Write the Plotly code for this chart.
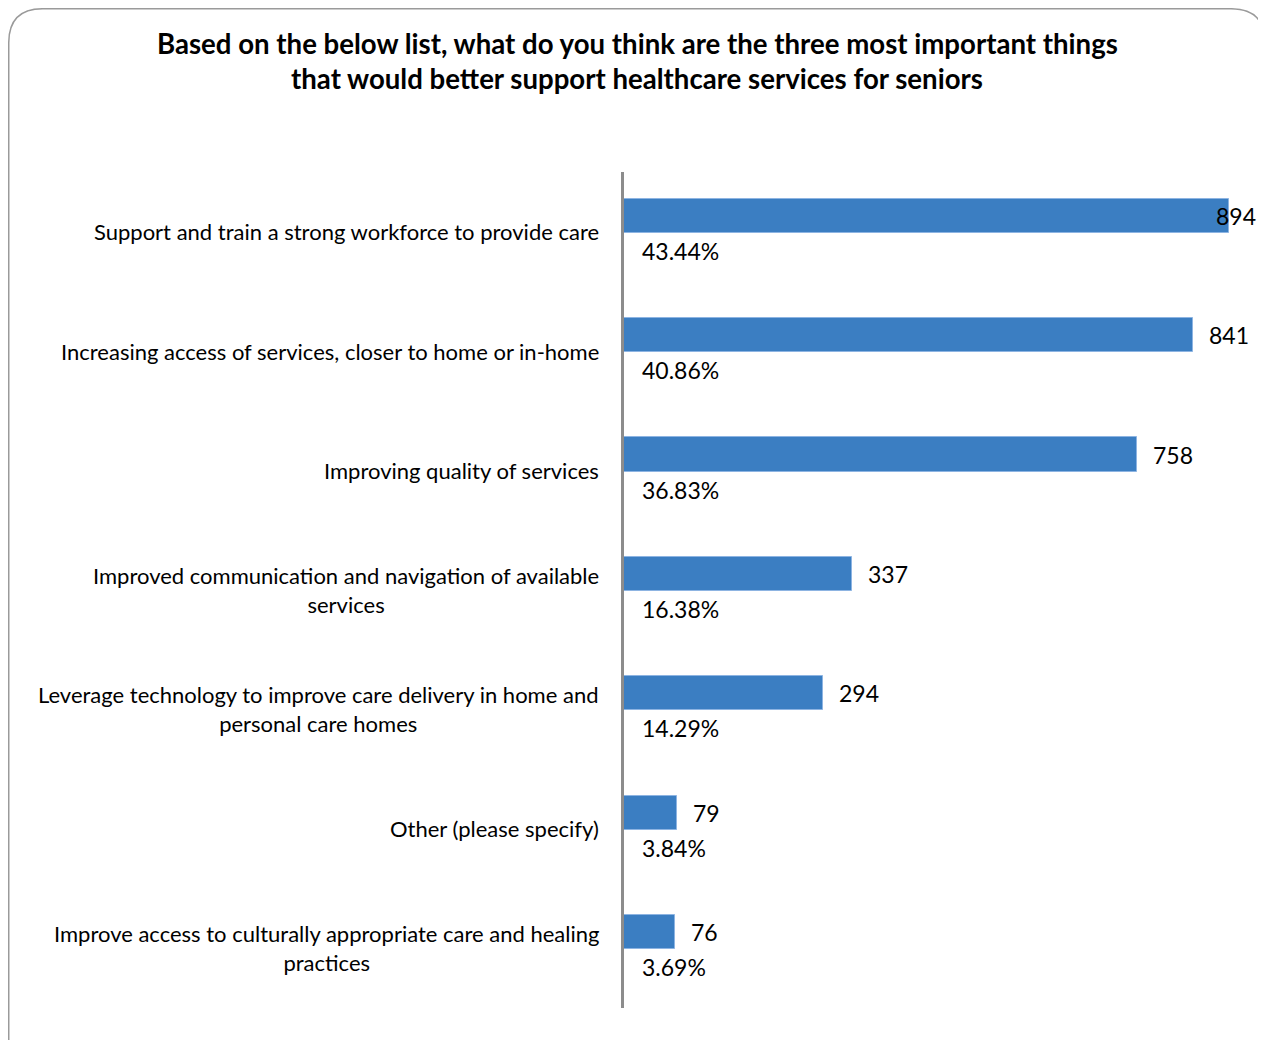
import plotly.graph_objects as go

categories = [
    "Support and train a strong workforce to provide care",
    "Increasing access of services, closer to home or in-home",
    "Improving quality of services",
    "Improved communication and navigation of available<br>services",
    "Leverage technology to improve care delivery in home and<br>personal care homes",
    "Other (please specify)",
    "Improve access to culturally appropriate care and healing<br>practices",
]
counts = [894, 841, 758, 337, 294, 79, 76]
percents = ["43.44%", "40.86%", "36.83%", "16.38%", "14.29%", "3.84%", "3.69%"]
title_lines = [
    "Based on the below list, what do you think are the three most important things",
    "that would better support healthcare services for seniors",
]

OFF = 8  # page body margin
W, H = 1266 - OFF, 1040 - OFF
ML, MR, MT, MB = 624 - OFF, 10, 172 - OFF, 32
PW, PH = W - ML - MR, H - MT - MB
XMAX = PW / 0.6767
FONT = "Lato"
BAR = "#3B7EC2"

def px2paper(px, py):
    # page pixel -> paper coords
    fx, fy = px - OFF, py - OFF
    return (fx - ML) / PW, (H - MB - fy) / PH

fig = go.Figure()
fig.add_trace(go.Bar(
    y=categories, x=counts, orientation="h",
    marker=dict(color=BAR, line=dict(color="#8DB4E2", width=1)),
    width=0.285, offset=-0.277,
    hoverinfo="skip",
))

ann = []
for i, (c, v, p) in enumerate(zip(categories, counts, percents)):
    ann.append(dict(x=0, xref="paper", y=c, yref="y", xanchor="right", yanchor="middle",
                    xshift=-23, text=c, align="center", showarrow=False,
                    font=dict(family=FONT, size=22, color="#000")))
    if v * 0.6767 + 15 + 40 > PW:
        ann.append(dict(x=1, xref="paper", y=c, yref="y", xanchor="right", yanchor="middle",
                        xshift=2, yshift=16, text=str(v), showarrow=False,
                        font=dict(family=FONT, size=23, color="#000")))
    else:
        ann.append(dict(x=v, xref="x", y=c, yref="y", xanchor="left", yanchor="middle",
                        xshift=14, yshift=16, text=str(v), showarrow=False,
                        font=dict(family=FONT, size=23, color="#000")))
    ann.append(dict(x=0, xref="x", y=c, yref="y", xanchor="left", yanchor="middle",
                    xshift=16, yshift=-19, text=p, showarrow=False,
                    font=dict(family=FONT, size=23, color="#000")))

for t, py in zip(title_lines, [43, 79]):
    xp, yp = px2paper(637, py)
    ann.append(dict(x=xp, y=yp, xref="paper", yref="paper", xanchor="center", yanchor="middle",
                    text="<b>" + t + "</b>", showarrow=False,
                    font=dict(family=FONT, size=27.6, color="#000")))

# rounded frame (page pixels)
L, T, R, B, r = 8.75, 8.75, 1265, 1075, 34
def P(x, y):
    a, b = px2paper(x, y)
    return f"{a:.5f},{b:.5f}"
path = (f"M {P(L, T + r)} Q {P(L, T)} {P(L + r, T)} L {P(R - r, T)} Q {P(R, T)} {P(R, T + r)} "
        f"L {P(R, B - r)} Q {P(R, B)} {P(R - r, B)} L {P(L + r, B)} Q {P(L, B)} {P(L, B - r)} Z")

fig.update_layout(
    width=W, height=H,
    margin=dict(l=ML, r=MR, t=MT, b=MB, pad=0),
    paper_bgcolor="white", plot_bgcolor="white",
    showlegend=False,
    annotations=ann,
    shapes=[dict(type="path", path=path, xref="paper", yref="paper",
                 line=dict(color="#9A9A9A", width=1.5), layer="below")],
    xaxis=dict(range=[0, XMAX], visible=False, showgrid=False, zeroline=False, fixedrange=True),
    yaxis=dict(autorange="reversed", showticklabels=False, showgrid=False, zeroline=False,
               showline=True, linecolor="#8C8C8C", linewidth=2.5, ticks=""),
    bargap=0,
)

fig.write_html("out.html")
